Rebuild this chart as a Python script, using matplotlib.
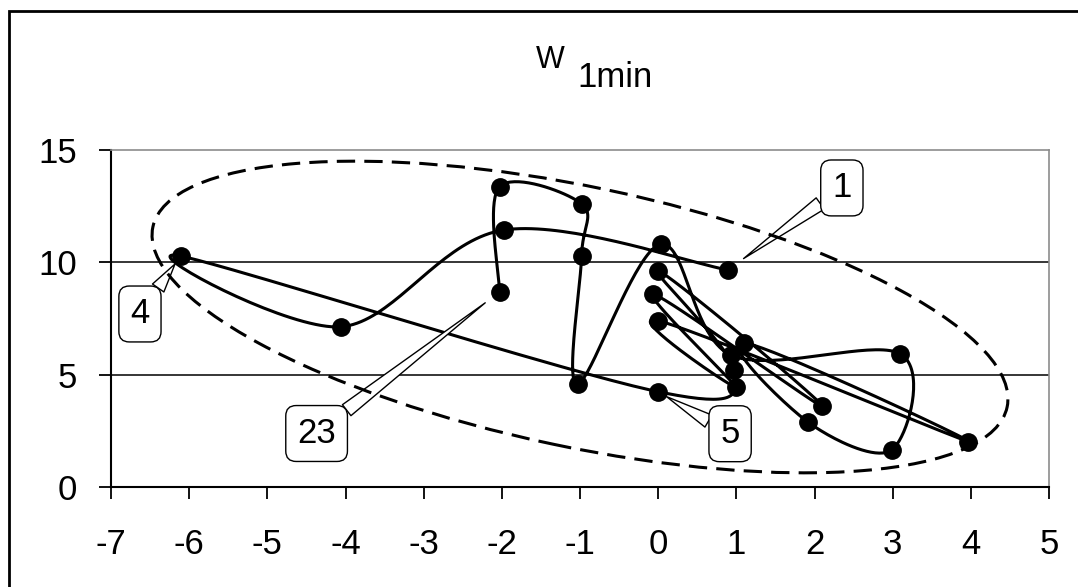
import numpy as np
import matplotlib
matplotlib.use("Agg")
from matplotlib import pyplot as plt
from matplotlib.patches import Ellipse, Rectangle

plt.rcParams['font.family'] = ['Liberation Sans', 'DejaVu Sans']
plt.rcParams['axes.unicode_minus'] = False

# points in the order they were measured (1..23)
x_vals = [0.89, -1.97, -4.06, -6.11, 0.0, 0.97, 0.0, 2.10, -0.06, 0.99, 0.0, 3.97,
          1.10, 1.92, 2.99, 3.10, 0.93, 0.03, -1.03, -0.98, -0.98, -2.03, -2.03]
y_vals = [9.66, 11.44, 7.13, 10.28, 4.24, 5.20, 9.63, 3.60, 8.58, 4.46, 7.40, 2.02,
          6.42, 2.88, 1.65, 5.92, 5.87, 10.80, 4.58, 10.28, 12.60, 13.36, 8.69]

x_ticks = list(range(-7, 6))
y_ticks = [0, 5, 10, 15]

# callouts: point number and where the box sits (data coords)
callout_nums = [1, 4, 5, 23]
callout_box_x = [2.35, -6.63, 0.92, -4.37]
callout_box_y = [13.31, 7.70, 2.37, 2.38]
callout_gap = [14, 7, 7, 13]

fig = plt.figure(figsize=(10.78, 5.87), dpi=100)
ax = fig.add_axes([0.1030, 0.1704, 0.8701, 0.5741])
ax.set_xlim(-7, 5)
ax.set_ylim(0, 15)

ax.set_xticks(x_ticks)
ax.set_yticks(y_ticks)
ax.tick_params(axis='both', direction='out', length=8.5, width=1.3, color='black', labelsize=25)
ax.tick_params(axis='x', pad=21)
ax.tick_params(axis='y', pad=16)

for s in ['left', 'bottom']:
    ax.spines[s].set_linewidth(1.5)
    ax.spines[s].set_color('black')
for s in ['top', 'right']:
    ax.spines[s].set_linewidth(1.2)
    ax.spines[s].set_color('#8c8c8c')
for yv in y_ticks[1:-1]:
    ax.axhline(yv, color='black', lw=1.1, zorder=1)

# smoothed line like excel: bezier through the points, done in pixel space
pts = ax.transData.transform(np.column_stack([x_vals, y_vals]))
n = len(pts)
t = np.linspace(0, 1, 40)[:, None]
curve = []
for i in range(n - 1):
    p0 = pts[max(i - 1, 0)]
    p1 = pts[i]
    p2 = pts[i + 1]
    p3 = pts[min(i + 2, n - 1)]
    c1 = p1 + (p2 - p0) / 6
    c2 = p2 - (p3 - p1) / 6
    seg = (1 - t) ** 3 * p1 + 3 * (1 - t) ** 2 * t * c1 + 3 * (1 - t) * t ** 2 * c2 + t ** 3 * p2
    curve.append(seg if i == 0 else seg[1:])
curve = ax.transData.inverted().transform(np.vstack(curve))
ax.plot(curve[:, 0], curve[:, 1], color='black', lw=2.2, zorder=3, solid_capstyle='round')
ax.plot(x_vals, y_vals, 'o', color='black', ms=12.5, zorder=4)

# callout boxes
for num, bx, by, gap in zip(callout_nums, callout_box_x, callout_box_y, callout_gap):
    i = num - 1
    ax.annotate(str(num), xy=(x_vals[i], y_vals[i]), xytext=(bx, by),
                ha='center', va='center', fontsize=25, zorder=6,
                bbox=dict(boxstyle='round,pad=0.33,rounding_size=0.3', fc='white', ec='black', lw=1),
                arrowprops=dict(arrowstyle='wedge,tail_width=0.4,shrink_factor=0.5',
                                fc='white', ec='black', lw=1, shrinkA=0, shrinkB=gap))

# dashed ellipse around the points
ell = Ellipse((5.80, 2.70), width=8.73, height=2.60, angle=-11.9,
              transform=fig.dpi_scale_trans, fill=False, ec='black', lw=2.2,
              ls=(0, (6, 3)), zorder=2)
fig.add_artist(ell)

# chart border (cut off at right/bottom)
fig.add_artist(Rectangle((0.09, -1), 12, 6.76, transform=fig.dpi_scale_trans,
                         fill=False, ec='black', lw=2))

# title W with subscript 1min
fig.text(565 / 1078, (587 - 68) / 587, 'W', fontsize=22, va='baseline', ha='right')
fig.text(577 / 1078, (587 - 87) / 587, '1min', fontsize=25, va='baseline', ha='left')

fig.savefig('out.png', dpi=100)
